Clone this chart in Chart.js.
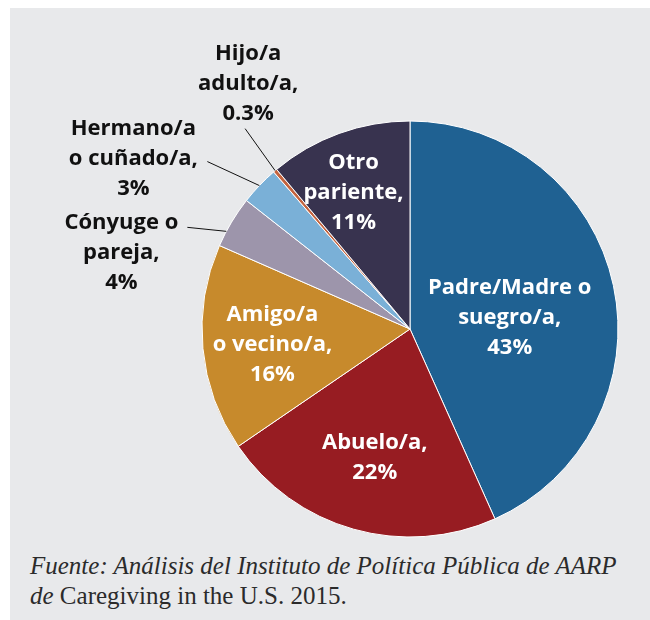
<!DOCTYPE html>
<html>
<head>
<meta charset="utf-8">
<script src="https://cdn.jsdelivr.net/npm/chart.js@4"></script>
<style>
    html, body { margin: 0; padding: 0; background: #fff; }
    #panel {
        position: absolute; left: 10px; top: 8px;
        width: 640px; height: 612px;
        background: #e8e9eb;
    }
    #grafico { position: absolute; left: 0; top: 0; }
    #fuente {
        position: absolute; left: 20px; top: 543px;
        font-family: "Liberation Serif", serif;
        font-size: 25px; line-height: 30px; color: #2b2b2b;
    }
    #fuente i { font-style: italic; }
</style>
</head>
<body>
<div id="panel">
    <canvas id="grafico" width="640" height="540"></canvas>
    <div id="fuente"><i>Fuente: Análisis del Instituto de Política Pública de AARP</i><br><i>de</i> Caregiving in the U.S. 2015.</div>
</div>
<script>
// Datos del gráfico (en sentido horario desde las 12)
const categorias = [
    ['Padre/Madre o', 'suegro/a,'],
    ['Abuelo/a,'],
    ['Amigo/a', 'o vecino/a,'],
    ['Cónyuge o', 'pareja,'],
    ['Hermano/a', 'o cuñado/a,'],
    ['Hijo/a', 'adulto/a,'],
    ['Otro', 'pariente,']
];
const valores = [43, 22, 16, 4, 3, 0.3, 11];
const etiquetasPct = ['43%', '22%', '16%', '4%', '3%', '0.3%', '11%'];
const colores = ['#1f6192', '#971c22', '#c78a2c', '#9d95ab', '#7ab0d7', '#c4643f', '#38334f'];

// Posición de cada etiqueta: dentro (offset desde el centro del arco) o fuera (offset desde el borde, con línea)
const ubicacion = [
    { dentro: true, dx: -2, dy: 10 },
    { dentro: true, dx: -7, dy: 29 },
    { dentro: true, dx: -34, dy: 6 },
    { dentro: false, at: 0.3, dx: -105, dy: 21, lx: -39, ly: -4 },
    { dentro: false, at: 0.5, dx: -126, dy: -27, lx: -52, ly: -24 },
    { dentro: false, at: 0.5, dx: -27, dy: -87, lx: -30, ly: -42 },
    { dentro: true, dx: -21, dy: -39 }
];

const etiquetasPlugin = {
    id: 'etiquetas',
    afterDatasetsDraw(chart) {
        const ctx = chart.ctx;
        const arcos = chart.getDatasetMeta(0).data;
        ctx.save();
        ctx.font = 'bold 22px "Open Sans"';
        ctx.textAlign = 'center';
        ctx.textBaseline = 'middle';
        arcos.forEach((arco, i) => {
            const u = ubicacion[i];
            const lineas = categorias[i].concat([etiquetasPct[i]]);
            let cx, cy;
            if (u.dentro) {
                const p = arco.tooltipPosition();
                cx = p.x + u.dx;
                cy = p.y + u.dy;
                ctx.fillStyle = '#ffffff';
            } else {
                const a = arco.startAngle + (arco.endAngle - arco.startAngle) * u.at;
                const ex = arco.x + Math.cos(a) * arco.outerRadius;
                const ey = arco.y + Math.sin(a) * arco.outerRadius;
                ctx.strokeStyle = '#111';
                ctx.lineWidth = 1;
                ctx.beginPath();
                ctx.moveTo(ex + u.lx, ey + u.ly);
                ctx.lineTo(ex, ey);
                ctx.stroke();
                cx = ex + u.dx;
                cy = ey + u.dy;
                ctx.fillStyle = '#111';
            }
            const salto = 30;
            const y0 = cy - (lineas.length - 1) * salto / 2;
            lineas.forEach((t, k) => ctx.fillText(t, cx, y0 + k * salto));
        });
        ctx.restore();
    }
};

new Chart(document.getElementById('grafico').getContext('2d'), {
    type: 'pie',
    data: {
        labels: categorias.map(c => c.join(' ')),
        datasets: [{
            data: valores,
            backgroundColor: colores,
            borderColor: '#ffffff',
            borderWidth: 1
        }]
    },
    options: {
        responsive: false,
        animation: false,
        radius: 208,
        layout: { padding: { left: 192, right: 32, top: 113, bottom: 11 } },
        plugins: {
            legend: { display: false },
            tooltip: { enabled: false }
        }
    },
    plugins: [etiquetasPlugin]
});
</script>
</body>
</html>
